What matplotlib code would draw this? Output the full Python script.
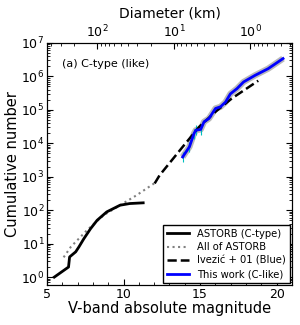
import numpy as np
import matplotlib.pyplot as plt

# ASTORB C-type cumulative counts
astorb_c_h = [5.47, 6.4, 6.47, 6.87, 7.08, 7.4, 7.84, 8.27, 8.9, 9.77, 10.4, 11.28]
astorb_c_n = [1.0, 2.0, 4.0, 5.7, 8.0, 14, 28, 50, 89, 141, 158, 166]

# all of ASTORB (scaled)
astorb_all_h = [6.08, 6.55, 7.6, 8.7, 9.77, 10.85, 12.14]
astorb_all_n = [3.9, 8.0, 25, 71, 141, 280, 700]

# Ivezic et al. 2001 (blue)
ivezic_h = [12.03, 12.35, 13.86, 14.94, 16.0, 17.08, 18.8]
ivezic_n = [630, 1100, 7800, 3.1e4, 8.7e4, 2.2e5, 7.4e5]

# this work (C-like)
work_h = [13.86, 14.3, 14.6, 14.72, 15.04, 15.26, 15.58, 16.01, 16.33, 16.66,
          16.98, 17.41, 17.84, 18.59, 19.45, 20.42]
work_n = [3900, 7800, 1.95e4, 2.45e4, 2.6e4, 4.4e4, 5.5e4, 1.1e5, 1.23e5, 1.7e5,
          3.0e5, 4.3e5, 6.8e5, 1.07e6, 1.7e6, 3.4e6]

# diameter ticks (km) on top axis
diam_major = [100, 10, 1]
diam_labels = ['$10^{2}$', '$10^{1}$', '$10^{0}$']

albedo = 0.085


def d_to_h(d):
    return 5.0 * np.log10(1329.0 / np.sqrt(albedo) / np.asarray(d, dtype=float))


fig = plt.figure(figsize=(3.0, 3.25), dpi=100)
ax = fig.add_axes([0.157, 0.123, 0.816, 0.745])

wh = np.array(work_h)
wn = np.array(work_n)
ax.plot(wh, wn, color='gray', lw=4.5, alpha=0.55, solid_capstyle='butt', zorder=2)
ax.errorbar(wh[:5], wn[:5], yerr=[wn[:5] * 0.3, wn[:5] * 0.4],
            color='c', lw=0.8, capsize=0, zorder=3)
ax.plot(astorb_c_h, astorb_c_n, color='k', lw=2, label='ASTORB (C-type)', zorder=4)
ax.plot(astorb_all_h, astorb_all_n, color='gray', lw=1.5, ls=':', label='All of ASTORB', zorder=3)
ax.plot(ivezic_h, ivezic_n, color='k', lw=1.8, ls='--', label=u'Ivezi\u0107 + 01 (Blue)', zorder=4)
ax.plot(wh, wn, color='b', lw=2, label='This work (C-like)', zorder=5)

ax.set_yscale('log')
ax.set_xlim(5, 21)
ax.set_ylim(0.58, 1e7)
ax.set_xticks([5, 10, 15, 20])
ax.tick_params(which='both', direction='in', top=False, right=True, labelsize=9, pad=2)
ax.tick_params(which='major', length=4)
ax.tick_params(which='minor', length=2)
ax.minorticks_on()
ax.set_xlabel('V-band absolute magnitude', fontsize=10.5, labelpad=0)
ax.set_ylabel('Cumulative number', fontsize=10.5, labelpad=1)
ax.text(0.06, 0.9, '(a) C-type (like)', transform=ax.transAxes, fontsize=8)

top = ax.twiny()
top.set_xlim(ax.get_xlim())
top.set_xticks(d_to_h(diam_major))
top.set_xticklabels(diam_labels)
minor_d = [k * 10.0 ** e for e in range(-1, 3) for k in range(2, 10)]
minor_h = [h for h in d_to_h(minor_d) if 5 <= h <= 21]
top.set_xticks(minor_h, minor=True)
top.tick_params(which='both', direction='in', labelsize=9, pad=2)
top.tick_params(which='major', length=4)
top.tick_params(which='minor', length=2)
top.set_xlabel('Diameter (km)', fontsize=10, labelpad=4)

ax.legend(loc='lower right', fontsize=7.2, handlelength=2.2, borderpad=0.4,
          labelspacing=0.35, handletextpad=0.8, borderaxespad=0.2, fancybox=False,
          edgecolor='k', framealpha=1)

fig.savefig('out.png', dpi=100)
